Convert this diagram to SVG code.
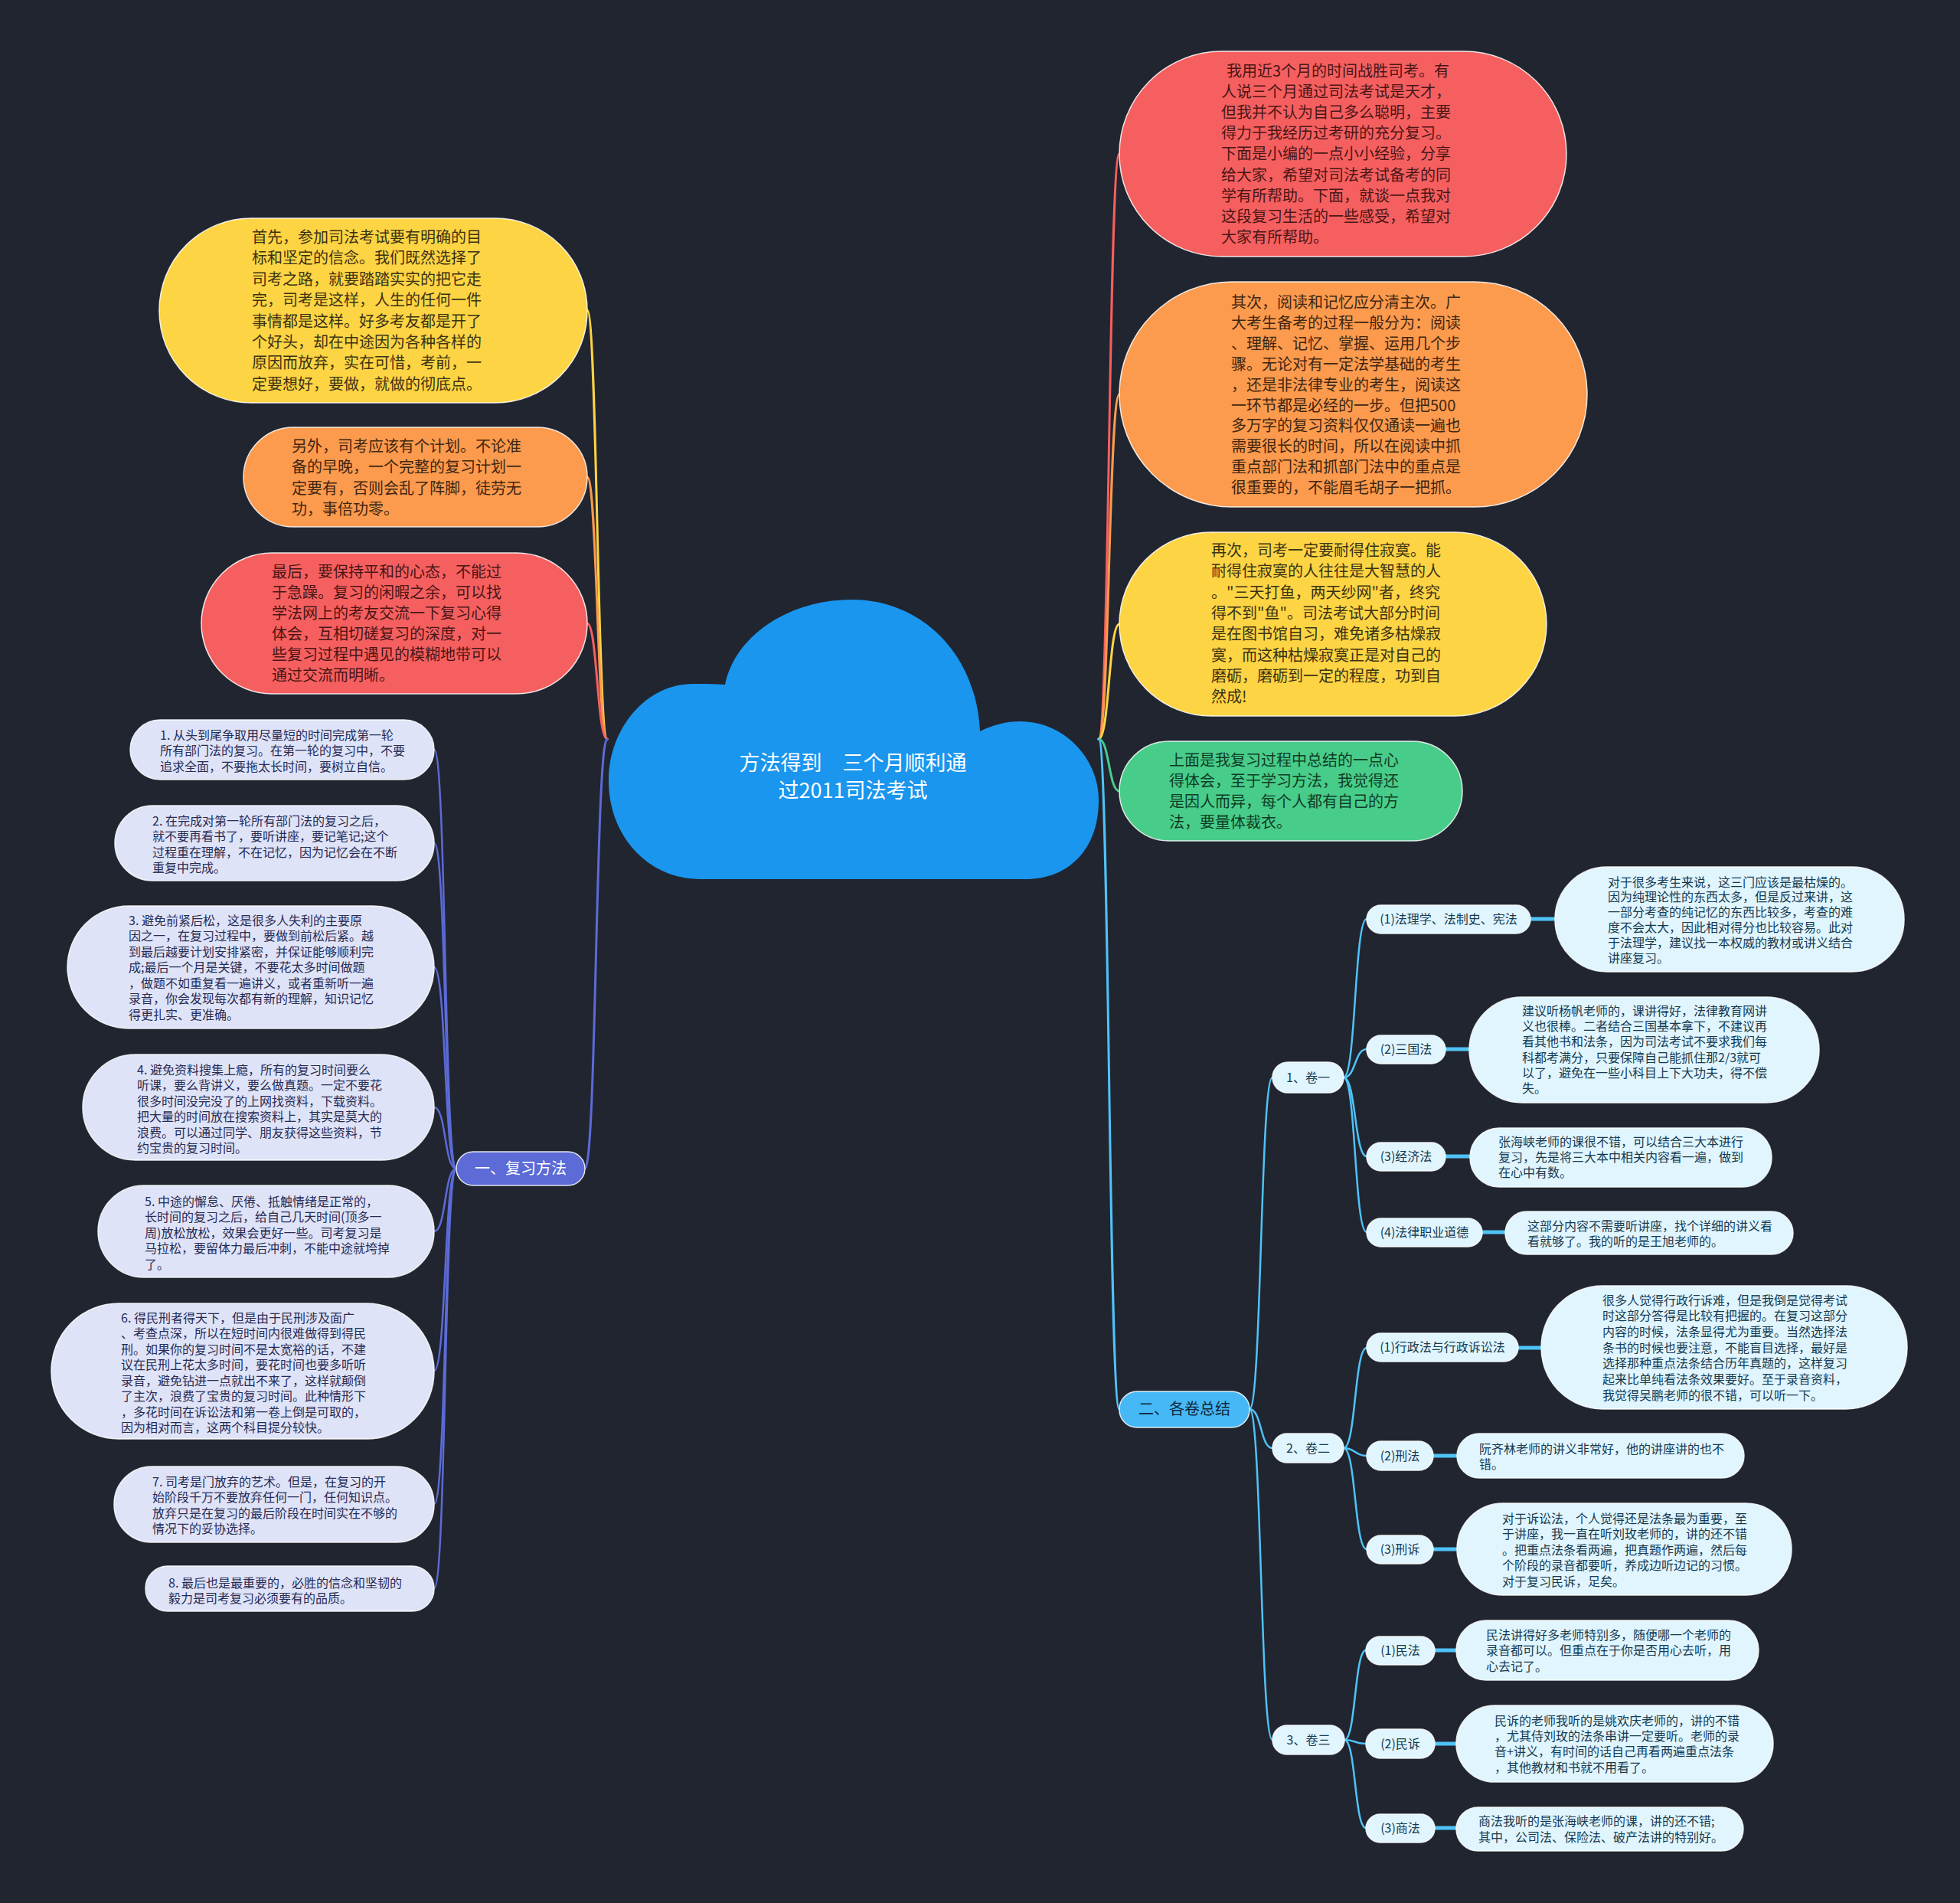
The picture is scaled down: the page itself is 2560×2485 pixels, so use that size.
<svg xmlns="http://www.w3.org/2000/svg" width="2560" height="2485" viewBox="0 0 2560 2485">
<style>
text{font-family:"Noto Sans CJK SC","Noto Sans",sans-serif;}
.t20{font-size:20px;}
.t16{font-size:16px;}
.nd{stroke:#ffffff;stroke-opacity:0.85;stroke-width:1.5;}
.ln{fill:none;stroke-width:3;stroke-linecap:round;}
.lnk{fill:none;stroke:#4fc3f7;stroke-width:5;}
.cy{fill:#fdd443;} .co{fill:#fc9a4d;} .cr{fill:#f65f5f;} .cg{fill:#48cc8a;}
.lav{fill:#dfe3f7;} .cyan{fill:#e0f5fe;}
.ty{fill:#3b3214;} .to{fill:#3f2612;} .tr{fill:#4a1616;} .tg{fill:#0e3d24;}
.tl{fill:#262b55;} .tc{fill:#143a52;}
.mid{text-anchor:middle;}
</style>
<rect width="2560" height="2485" fill="#212530"/>

<g id="connectors">
  <path class="ln" stroke="#fdd443" d="M793 965 C780 965 780 405 767 405"/>
  <path class="ln" stroke="#fc9a4d" d="M793 965 C780 965 780 623 767 623"/>
  <path class="ln" stroke="#f65f5f" d="M793 965 C780 965 780 814 767 814"/>
  <path class="ln" stroke="#5c6bd6" d="M793 965 C778 965 779 1526 764 1526"/>
  <g stroke="#5c6bd6" class="ln" style="stroke-width:2.5">
    <path d="M596 1526 C580 1526 583 979 567 979"/>
    <path d="M596 1526 C580 1526 583 1101 567 1101"/>
    <path d="M596 1526 C580 1526 583 1263 567 1263"/>
    <path d="M596 1526 C580 1526 583 1446 567 1446"/>
    <path d="M596 1526 C580 1526 583 1608 567 1608"/>
    <path d="M596 1526 C580 1526 583 1790 567 1790"/>
    <path d="M596 1526 C580 1526 583 1964 567 1964"/>
    <path d="M596 1526 C580 1526 583 2074 567 2074"/>
  </g>
  <path class="ln" stroke="#f65f5f" d="M1435 965 C1449 965 1448 201 1462 201"/>
  <path class="ln" stroke="#fc9a4d" d="M1435 965 C1449 965 1448 515 1462 515"/>
  <path class="ln" stroke="#fdd443" d="M1435 965 C1449 965 1448 815 1462 815"/>
  <path class="ln" stroke="#48cc8a" d="M1435 965 C1449 965 1448 1033 1462 1033"/>
  <path class="ln" stroke="#4fc3f7" d="M1435 965 C1449 965 1448 1840 1462 1840"/>
  <g stroke="#4fc3f7" class="ln" style="stroke-width:2.5">
    <path d="M1632 1840 C1648 1840 1646 1407 1662 1407"/>
    <path d="M1632 1840 C1648 1840 1646 1891 1662 1891"/>
    <path d="M1632 1840 C1648 1840 1646 2272 1662 2272"/>
    <path d="M1755 1407 C1771 1407 1769 1200 1785 1200"/>
    <path d="M1755 1407 C1771 1407 1769 1370 1785 1370"/>
    <path d="M1755 1407 C1771 1407 1769 1510 1785 1510"/>
    <path d="M1755 1407 C1771 1407 1769 1609 1785 1609"/>
    <path d="M1755 1891 C1771 1891 1769 1760 1785 1760"/>
    <path d="M1755 1891 C1771 1891 1769 1901 1785 1901"/>
    <path d="M1755 1891 C1771 1891 1769 2023 1785 2023"/>
    <path d="M1756 2272 C1771 2272 1769 2155 1784 2155"/>
    <path d="M1756 2272 C1771 2272 1769 2277 1784 2277"/>
    <path d="M1756 2272 C1771 2272 1769 2387 1784 2387"/>
  </g>
  <path class="lnk" d="M1999 1200 H2031"/>
  <path class="lnk" d="M1888 1370 H1919"/>
  <path class="lnk" d="M1888 1510 H1920"/>
  <path class="lnk" d="M1936 1609 H1966"/>
  <path class="lnk" d="M1983 1760 H2013"/>
  <path class="lnk" d="M1872 1901 H1903"/>
  <path class="lnk" d="M1872 2023 H1903"/>
  <path class="lnk" d="M1874 2155 H1902"/>
  <path class="lnk" d="M1874 2277 H1902"/>
  <path class="lnk" d="M1874 2387 H1902"/>
</g>

<g id="root">
  <path fill="#1a96ee" d="M947 894 C960 830 1030 783 1113 783 C1200 783 1275 850 1280 955 C1298 946 1315 942 1332 942 C1390 942 1435 990 1435 1045 C1435 1110 1395 1148 1340 1148 L915 1148 C845 1148 795 1090 795 1020 C795 950 845 893 905 893 C920 893 935 893 947 894 Z"/>
  <text class="mid" font-size="27" fill="#ffffff" x="1114" y="1005.5">方法得到　三个月顺利通</text>
  <text class="mid" font-size="27" fill="#ffffff" x="1114" y="1041.5">过2011司法考试</text>
</g>

<g id="left-yellow">
  <rect class="nd cy" x="208" y="285" width="559" height="241" rx="120"/>
  <text class="t20 ty"><tspan x="329" y="317">首先，参加司法考试要有明确的目</tspan><tspan x="329" dy="27.4">标和坚定的信念。我们既然选择了</tspan><tspan x="329" dy="27.4">司考之路，就要踏踏实实的把它走</tspan><tspan x="329" dy="27.4">完，司考是这样，人生的任何一件</tspan><tspan x="329" dy="27.4">事情都是这样。好多考友都是开了</tspan><tspan x="329" dy="27.4">个好头，却在中途因为各种各样的</tspan><tspan x="329" dy="27.4">原因而放弃，实在可惜，考前，一</tspan><tspan x="329" dy="27.4">定要想好，要做，就做的彻底点。</tspan></text>
</g>
<g id="left-orange">
  <rect class="nd co" x="318" y="558" width="449" height="130" rx="65"/>
  <text class="t20 to"><tspan x="381" y="590">另外，司考应该有个计划。不论准</tspan><tspan x="381" dy="27.3">备的早晚，一个完整的复习计划一</tspan><tspan x="381" dy="27.3">定要有，否则会乱了阵脚，徒劳无</tspan><tspan x="381" dy="27.3">功，事倍功零。</tspan></text>
</g>
<g id="left-red">
  <rect class="nd cr" x="263" y="722" width="504" height="184" rx="92"/>
  <text class="t20 tr"><tspan x="355" y="754">最后，要保持平和的心态，不能过</tspan><tspan x="355" dy="27">于急躁。复习的闲暇之余，可以找</tspan><tspan x="355" dy="27">学法网上的考友交流一下复习心得</tspan><tspan x="355" dy="27">体会，互相切磋复习的深度，对一</tspan><tspan x="355" dy="27">些复习过程中遇见的模糊地带可以</tspan><tspan x="355" dy="27">通过交流而明晰。</tspan></text>
</g>

<g id="branch-fuxi">
  <rect class="nd" fill="#5c6bd6" x="596" y="1504" width="168" height="44" rx="22"/>
  <text class="mid" font-size="20" fill="#ffffff" x="680" y="1533">一、复习方法</text>
</g>
<g id="item1">
  <rect class="nd lav" x="170" y="940" width="397" height="78" rx="39"/>
  <text class="t16 tl"><tspan x="209" y="965.6">1. 从头到尾争取用尽量短的时间完成第一轮</tspan><tspan x="209" dy="20.5">所有部门法的复习。在第一轮的复习中，不要</tspan><tspan x="209" dy="20.5">追求全面，不要拖太长时间，要树立自信。</tspan></text>
</g>
<g id="item2">
  <rect class="nd lav" x="150" y="1052" width="417" height="98" rx="49"/>
  <text class="t16 tl"><tspan x="199" y="1077.6">2. 在完成对第一轮所有部门法的复习之后，</tspan><tspan x="199" dy="20.5">就不要再看书了，要听讲座，要记笔记;这个</tspan><tspan x="199" dy="20.5">过程重在理解，不在记忆，因为记忆会在不断</tspan><tspan x="199" dy="20.5">重复中完成。</tspan></text>
</g>
<g id="item3">
  <rect class="nd lav" x="88" y="1183" width="479" height="160" rx="80"/>
  <text class="t16 tl"><tspan x="168" y="1207.6">3. 避免前紧后松，这是很多人失利的主要原</tspan><tspan x="168" dy="20.5">因之一，在复习过程中，要做到前松后紧。越</tspan><tspan x="168" dy="20.5">到最后越要计划安排紧密，并保证能够顺利完</tspan><tspan x="168" dy="20.5">成;最后一个月是关键，不要花太多时间做题</tspan><tspan x="168" dy="20.5">，做题不如重复看一遍讲义，或者重新听一遍</tspan><tspan x="168" dy="20.5">录音，你会发现每次都有新的理解，知识记忆</tspan><tspan x="168" dy="20.5">得更扎实、更准确。</tspan></text>
</g>
<g id="item4">
  <rect class="nd lav" x="108" y="1377" width="459" height="138" rx="69"/>
  <text class="t16 tl"><tspan x="179" y="1402.6">4. 避免资料搜集上瘾，所有的复习时间要么</tspan><tspan x="179" dy="20.5">听课，要么背讲义，要么做真题。一定不要花</tspan><tspan x="179" dy="20.5">很多时间没完没了的上网找资料，下载资料。</tspan><tspan x="179" dy="20.5">把大量的时间放在搜索资料上，其实是莫大的</tspan><tspan x="179" dy="20.5">浪费。可以通过同学、朋友获得这些资料，节</tspan><tspan x="179" dy="20.5">约宝贵的复习时间。</tspan></text>
</g>
<g id="item5">
  <rect class="nd lav" x="128" y="1548" width="439" height="120" rx="60"/>
  <text class="t16 tl"><tspan x="189" y="1574.6">5. 中途的懈怠、厌倦、抵触情绪是正常的，</tspan><tspan x="189" dy="20.5">长时间的复习之后，给自己几天时间(顶多一</tspan><tspan x="189" dy="20.5">周)放松放松，效果会更好一些。司考复习是</tspan><tspan x="189" dy="20.5">马拉松，要留体力最后冲刺，不能中途就垮掉</tspan><tspan x="189" dy="20.5">了。</tspan></text>
</g>
<g id="item6">
  <rect class="nd lav" x="67" y="1702" width="500" height="177" rx="88"/>
  <text class="t16 tl"><tspan x="158" y="1726.6">6. 得民刑者得天下，但是由于民刑涉及面广</tspan><tspan x="158" dy="20.5">、考查点深，所以在短时间内很难做得到得民</tspan><tspan x="158" dy="20.5">刑。如果你的复习时间不是太宽裕的话，不建</tspan><tspan x="158" dy="20.5">议在民刑上花太多时间，要花时间也要多听听</tspan><tspan x="158" dy="20.5">录音，避免钻进一点就出不来了，这样就颠倒</tspan><tspan x="158" dy="20.5">了主次，浪费了宝贵的复习时间。此种情形下</tspan><tspan x="158" dy="20.5">，多花时间在诉讼法和第一卷上倒是可取的，</tspan><tspan x="158" dy="20.5">因为相对而言，这两个科目提分较快。</tspan></text>
</g>
<g id="item7">
  <rect class="nd lav" x="149" y="1915" width="418" height="99" rx="49"/>
  <text class="t16 tl"><tspan x="199" y="1940.6">7. 司考是门放弃的艺术。但是，在复习的开</tspan><tspan x="199" dy="20.5">始阶段千万不要放弃任何一门，任何知识点。</tspan><tspan x="199" dy="20.5">放弃只是在复习的最后阶段在时间实在不够的</tspan><tspan x="199" dy="20.5">情况下的妥协选择。</tspan></text>
</g>
<g id="item8">
  <rect class="nd lav" x="190" y="2045" width="377" height="59" rx="29"/>
  <text class="t16 tl"><tspan x="220" y="2072.6">8. 最后也是最重要的，必胜的信念和坚韧的</tspan><tspan x="220" dy="20.5">毅力是司考复习必须要有的品质。</tspan></text>
</g>

<g id="right-red">
  <rect class="nd cr" x="1462" y="67" width="584" height="268" rx="134"/>
  <text class="t20 tr"><tspan x="1602" y="100">我用近3个月的时间战胜司考。有</tspan><tspan x="1595" dy="27.1">人说三个月通过司法考试是天才，</tspan><tspan x="1595" dy="27.1">但我并不认为自己多么聪明，主要</tspan><tspan x="1595" dy="27.1">得力于我经历过考研的充分复习。</tspan><tspan x="1595" dy="27.1">下面是小编的一点小小经验，分享</tspan><tspan x="1595" dy="27.1">给大家，希望对司法考试备考的同</tspan><tspan x="1595" dy="27.1">学有所帮助。下面，就谈一点我对</tspan><tspan x="1595" dy="27.1">这段复习生活的一些感受，希望对</tspan><tspan x="1595" dy="27.1">大家有所帮助。</tspan></text>
</g>
<g id="right-orange">
  <rect class="nd co" x="1462" y="368" width="611" height="294" rx="147"/>
  <text class="t20 to"><tspan x="1608" y="402">其次，阅读和记忆应分清主次。广</tspan><tspan x="1608" dy="26.9">大考生备考的过程一般分为：阅读</tspan><tspan x="1608" dy="26.9">、理解、记忆、掌握、运用几个步</tspan><tspan x="1608" dy="26.9">骤。无论对有一定法学基础的考生</tspan><tspan x="1608" dy="26.9">，还是非法律专业的考生，阅读这</tspan><tspan x="1608" dy="26.9">一环节都是必经的一步。但把500</tspan><tspan x="1608" dy="26.9">多万字的复习资料仅仅通读一遍也</tspan><tspan x="1608" dy="26.9">需要很长的时间，所以在阅读中抓</tspan><tspan x="1608" dy="26.9">重点部门法和抓部门法中的重点是</tspan><tspan x="1608" dy="26.9">很重要的，不能眉毛胡子一把抓。</tspan></text>
</g>
<g id="right-yellow">
  <rect class="nd cy" x="1462" y="695" width="558" height="240" rx="120"/>
  <text class="t20 ty"><tspan x="1582" y="726">再次，司考一定要耐得住寂寞。能</tspan><tspan x="1582" dy="27.3">耐得住寂寞的人往往是大智慧的人</tspan><tspan x="1582" dy="27.3">。"三天打鱼，两天纱网"者，终究</tspan><tspan x="1582" dy="27.3">得不到"鱼"。司法考试大部分时间</tspan><tspan x="1582" dy="27.3">是在图书馆自习，难免诸多枯燥寂</tspan><tspan x="1582" dy="27.3">寞，而这种枯燥寂寞正是对自己的</tspan><tspan x="1582" dy="27.3">磨砺，磨砺到一定的程度，功到自</tspan><tspan x="1582" dy="27.3">然成!</tspan></text>
</g>
<g id="right-green">
  <rect class="nd cg" x="1462" y="968" width="448" height="130" rx="65"/>
  <text class="t20 tg"><tspan x="1527" y="1000">上面是我复习过程中总结的一点心</tspan><tspan x="1527" dy="27">得体会，至于学习方法，我觉得还</tspan><tspan x="1527" dy="27">是因人而异，每个人都有自己的方</tspan><tspan x="1527" dy="27">法，要量体裁衣。</tspan></text>
</g>

<g id="branch-juan">
  <rect class="nd" fill="#45b8f5" x="1462" y="1817" width="170" height="47" rx="23"/>
  <text class="mid" font-size="20" fill="#10263d" x="1547" y="1847">二、各卷总结</text>
</g>
<g id="juan1">
  <rect class="nd cyan" x="1662" y="1387" width="93" height="40" rx="20"/>
  <text class="t16 tc mid" x="1708.5" y="1412.6">1、卷一</text>
</g>
<g id="juan2">
  <rect class="nd cyan" x="1662" y="1872" width="93" height="38" rx="19"/>
  <text class="t16 tc mid" x="1708.5" y="1896.6">2、卷二</text>
</g>
<g id="juan3">
  <rect class="nd cyan" x="1662" y="2253" width="94" height="38" rx="19"/>
  <text class="t16 tc mid" x="1709" y="2277.6">3、卷三</text>
</g>

<g id="sub-1-1">
  <rect class="nd cyan" x="1785" y="1182" width="214" height="37" rx="18.5"/>
  <text class="t16 tc mid" x="1892" y="1206.1">(1)法理学、法制史、宪法</text>
</g>
<g id="detail-1-1">
  <rect class="nd cyan" x="2031" y="1132" width="456" height="137" rx="68"/>
  <text class="t16 tc"><tspan x="2100" y="1157.6">对于很多考生来说，这三门应该是最枯燥的。</tspan><tspan x="2100" dy="19.8">因为纯理论性的东西太多，但是反过来讲，这</tspan><tspan x="2100" dy="19.8">一部分考查的纯记忆的东西比较多，考查的难</tspan><tspan x="2100" dy="19.8">度不会太大，因此相对得分也比较容易。此对</tspan><tspan x="2100" dy="19.8">于法理学，建议找一本权威的教材或讲义结合</tspan><tspan x="2100" dy="19.8">讲座复习。</tspan></text>
</g>
<g id="sub-1-2">
  <rect class="nd cyan" x="1785" y="1352" width="103" height="37" rx="18.5"/>
  <text class="t16 tc mid" x="1836.5" y="1376.1">(2)三国法</text>
</g>
<g id="detail-1-2">
  <rect class="nd cyan" x="1919" y="1302" width="457" height="138" rx="69"/>
  <text class="t16 tc"><tspan x="1988" y="1325.6">建议听杨帆老师的，课讲得好，法律教育网讲</tspan><tspan x="1988" dy="20.3">义也很棒。二者结合三国基本拿下，不建议再</tspan><tspan x="1988" dy="20.3">看其他书和法条，因为司法考试不要求我们每</tspan><tspan x="1988" dy="20.3">科都考满分，只要保障自己能抓住那2/3就可</tspan><tspan x="1988" dy="20.3">以了，避免在一些小科目上下大功夫，得不偿</tspan><tspan x="1988" dy="20.3">失。</tspan></text>
</g>
<g id="sub-1-3">
  <rect class="nd cyan" x="1785" y="1492" width="103" height="37" rx="18.5"/>
  <text class="t16 tc mid" x="1836.5" y="1516.1">(3)经济法</text>
</g>
<g id="detail-1-3">
  <rect class="nd cyan" x="1920" y="1473" width="394" height="77" rx="38"/>
  <text class="t16 tc"><tspan x="1957" y="1496.6">张海峡老师的课很不错，可以结合三大本进行</tspan><tspan x="1957" dy="20.3">复习，先是将三大本中相关内容看一遍，做到</tspan><tspan x="1957" dy="20.3">在心中有数。</tspan></text>
</g>
<g id="sub-1-4">
  <rect class="nd cyan" x="1785" y="1591" width="151" height="37" rx="18.5"/>
  <text class="t16 tc mid" x="1860.5" y="1615.1">(4)法律职业道德</text>
</g>
<g id="detail-1-4">
  <rect class="nd cyan" x="1966" y="1582" width="376" height="56" rx="28"/>
  <text class="t16 tc"><tspan x="1995" y="1606.6">这部分内容不需要听讲座，找个详细的讲义看</tspan><tspan x="1995" dy="20.3">看就够了。我的听的是王旭老师的。</tspan></text>
</g>

<g id="sub-2-1">
  <rect class="nd cyan" x="1785" y="1741" width="198" height="37" rx="18.5"/>
  <text class="t16 tc mid" x="1884" y="1765.1">(1)行政法与行政诉讼法</text>
</g>
<g id="detail-2-1">
  <rect class="nd cyan" x="2013" y="1679" width="478" height="161" rx="80"/>
  <text class="t16 tc"><tspan x="2093" y="1703.6">很多人觉得行政行诉难，但是我倒是觉得考试</tspan><tspan x="2093" dy="20.7">时这部分答得是比较有把握的。在复习这部分</tspan><tspan x="2093" dy="20.7">内容的时候，法条显得尤为重要。当然选择法</tspan><tspan x="2093" dy="20.7">条书的时候也要注意，不能盲目选择，最好是</tspan><tspan x="2093" dy="20.7">选择那种重点法条结合历年真题的，这样复习</tspan><tspan x="2093" dy="20.7">起来比单纯看法条效果要好。至于录音资料，</tspan><tspan x="2093" dy="20.7">我觉得吴鹏老师的很不错，可以听一下。</tspan></text>
</g>
<g id="sub-2-2">
  <rect class="nd cyan" x="1785" y="1882" width="87" height="38" rx="19"/>
  <text class="t16 tc mid" x="1828.5" y="1906.6">(2)刑法</text>
</g>
<g id="detail-2-2">
  <rect class="nd cyan" x="1903" y="1872" width="375" height="58" rx="29"/>
  <text class="t16 tc"><tspan x="1932" y="1897.6">阮齐林老师的讲义非常好，他的讲座讲的也不</tspan><tspan x="1932" dy="20.5">错。</tspan></text>
</g>
<g id="sub-2-3">
  <rect class="nd cyan" x="1785" y="2005" width="87" height="37" rx="18.5"/>
  <text class="t16 tc mid" x="1828.5" y="2029.1">(3)刑诉</text>
</g>
<g id="detail-2-3">
  <rect class="nd cyan" x="1903" y="1963" width="437" height="120" rx="60"/>
  <text class="t16 tc"><tspan x="1962" y="1988.6">对于诉讼法，个人觉得还是法条最为重要，至</tspan><tspan x="1962" dy="20.5">于讲座，我一直在听刘玫老师的，讲的还不错</tspan><tspan x="1962" dy="20.5">。把重点法条看两遍，把真题作两遍，然后每</tspan><tspan x="1962" dy="20.5">个阶段的录音都要听，养成边听边记的习惯。</tspan><tspan x="1962" dy="20.5">对于复习民诉，足矣。</tspan></text>
</g>

<g id="sub-3-1">
  <rect class="nd cyan" x="1784" y="2137" width="90" height="37" rx="18.5"/>
  <text class="t16 tc mid" x="1829" y="2161.1">(1)民法</text>
</g>
<g id="detail-3-1">
  <rect class="nd cyan" x="1902" y="2116" width="395" height="78" rx="39"/>
  <text class="t16 tc"><tspan x="1941" y="2140.6">民法讲得好多老师特别多，随便哪一个老师的</tspan><tspan x="1941" dy="20.8">录音都可以。但重点在于你是否用心去听，用</tspan><tspan x="1941" dy="20.8">心去记了。</tspan></text>
</g>
<g id="sub-3-2">
  <rect class="nd cyan" x="1784" y="2258" width="90" height="38" rx="19"/>
  <text class="t16 tc mid" x="1829" y="2282.6">(2)民诉</text>
</g>
<g id="detail-3-2">
  <rect class="nd cyan" x="1902" y="2227" width="414" height="100" rx="50"/>
  <text class="t16 tc"><tspan x="1952" y="2252.6">民诉的老师我听的是姚欢庆老师的，讲的不错</tspan><tspan x="1952" dy="20.3">，尤其侍刘玫的法条串讲一定要听。老师的录</tspan><tspan x="1952" dy="20.3">音+讲义，有时间的话自己再看两遍重点法条</tspan><tspan x="1952" dy="20.3">，其他教材和书就不用看了。</tspan></text>
</g>
<g id="sub-3-3">
  <rect class="nd cyan" x="1784" y="2369" width="90" height="37" rx="18.5"/>
  <text class="t16 tc mid" x="1829" y="2393.1">(3)商法</text>
</g>
<g id="detail-3-3">
  <rect class="nd cyan" x="1902" y="2360" width="375" height="57" rx="28.5"/>
  <text class="t16 tc"><tspan x="1931" y="2383.6">商法我听的是张海峡老师的课，讲的还不错;</tspan><tspan x="1931" dy="21">其中，公司法、保险法、破产法讲的特别好。</tspan></text>
</g>
</svg>
